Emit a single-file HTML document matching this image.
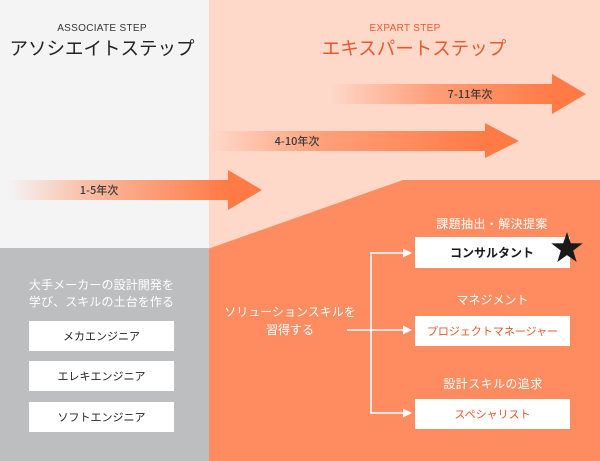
<!DOCTYPE html>
<html><head><meta charset="utf-8"><style>
html,body{margin:0;padding:0;width:600px;height:461px;overflow:hidden;background:#f4f4f4}
svg{display:block}
text{font-family:"Liberation Sans","Noto Sans CJK JP",sans-serif}
.jp{font-family:"Noto Sans CJK JP","Liberation Sans",sans-serif}
</style></head><body>
<svg width="600" height="461" viewBox="0 0 600 461" xmlns="http://www.w3.org/2000/svg">
<defs>
<linearGradient id="g1" gradientUnits="userSpaceOnUse" x1="8" y1="0" x2="230" y2="0">
<stop offset="0" stop-color="#ff7a45" stop-opacity="0"/>
<stop offset="0.45" stop-color="#ff7a45" stop-opacity="0.55"/>
<stop offset="1" stop-color="#ff7a45" stop-opacity="1"/>
</linearGradient>
<linearGradient id="g2" gradientUnits="userSpaceOnUse" x1="212" y1="0" x2="487" y2="0">
<stop offset="0" stop-color="#ff7a45" stop-opacity="0"/>
<stop offset="0.4" stop-color="#ff7a45" stop-opacity="0.6"/>
<stop offset="1" stop-color="#ff7a45" stop-opacity="1"/>
</linearGradient>
<linearGradient id="g3" gradientUnits="userSpaceOnUse" x1="330" y1="0" x2="554" y2="0">
<stop offset="0" stop-color="#ff7a45" stop-opacity="0"/>
<stop offset="0.45" stop-color="#ff7a45" stop-opacity="0.6"/>
<stop offset="1" stop-color="#ff7a45" stop-opacity="1"/>
</linearGradient>
</defs>
<!-- backgrounds -->
<rect x="0" y="0" width="209" height="248" fill="#f4f4f4"/>
<rect x="0" y="248" width="209" height="213" fill="#bdbec0"/>
<rect x="209" y="0" width="391" height="461" fill="#fed8c9"/>
<polygon points="209,248.5 403,180 600,180 600,461 209,461" fill="#ff8c60"/>

<!-- headings -->
<text x="102" y="31" text-anchor="middle" font-size="10" fill="#333" letter-spacing="0.3">ASSOCIATE STEP</text>
<text x="102" y="55" text-anchor="middle" font-size="18.5" fill="#222" class="jp">アソシエイトステップ</text>
<text x="405" y="31" text-anchor="middle" font-size="10" fill="#e9582b" letter-spacing="0.3">EXPART STEP</text>
<text x="414" y="55" text-anchor="middle" font-size="18.5" fill="#e9582b" class="jp">エキスパートステップ</text>

<!-- arrows -->
<rect x="8" y="180" width="221" height="20" fill="url(#g1)"/>
<polygon points="228,170 262,190 228,210" fill="#ff7a45"/>
<text x="99" y="194" text-anchor="middle" font-size="11" font-weight="500" fill="#3a3a3a" class="jp">1-5年次</text>

<rect x="212" y="131" width="274" height="20" fill="url(#g2)"/>
<polygon points="485,123 519,141 485,158" fill="#ff7a45"/>
<text x="297" y="145" text-anchor="middle" font-size="11" font-weight="500" fill="#3a3a3a" class="jp">4-10年次</text>

<rect x="330" y="84" width="223" height="20" fill="url(#g3)"/>
<polygon points="552,74 586,94 552,114" fill="#ff7a45"/>
<text x="470" y="98" text-anchor="middle" font-size="11" font-weight="500" fill="#3a3a3a" class="jp">7-11年次</text>

<!-- bottom left -->
<text x="101.5" y="289" text-anchor="middle" font-size="12" fill="#fff" class="jp" letter-spacing="0.1">大手メーカーの設計開発を</text>
<text x="101.5" y="306" text-anchor="middle" font-size="12" fill="#fff" class="jp" letter-spacing="0.1">学び、スキルの土台を作る</text>
<rect x="29" y="321" width="145" height="30" fill="#fff"/>
<rect x="29" y="361" width="145" height="30" fill="#fff"/>
<rect x="29" y="402" width="145" height="30" fill="#fff"/>
<text x="101.5" y="340" text-anchor="middle" font-size="11" fill="#222" class="jp">メカエンジニア</text>
<text x="101.5" y="380" text-anchor="middle" font-size="11" fill="#222" class="jp">エレキエンジニア</text>
<text x="101.5" y="421" text-anchor="middle" font-size="11" fill="#222" class="jp">ソフトエンジニア</text>

<!-- right bottom -->
<text x="290" y="316" text-anchor="middle" font-size="12" fill="#fff" class="jp">ソリューションスキルを</text>
<text x="290" y="334" text-anchor="middle" font-size="12" fill="#fff" class="jp">習得する</text>

<g stroke="#fff" stroke-width="1.6" fill="none">
<line x1="347" y1="330" x2="405" y2="330"/>
<polyline points="405,253 371,253 371,413 405,413"/>
</g>
<g fill="#fff">
<polygon points="403,248.5 412,253 403,257.5"/>
<polygon points="403,325.5 412,330 403,334.5"/>
<polygon points="403,408.5 412,413 403,417.5"/>
</g>

<text x="492" y="228" text-anchor="middle" font-size="12" fill="#fff" class="jp" letter-spacing="0.4">課題抽出・解決提案</text>
<text x="492.5" y="304" text-anchor="middle" font-size="12" fill="#fff" class="jp">マネジメント</text>
<text x="493" y="388" text-anchor="middle" font-size="12" fill="#fff" class="jp" letter-spacing="0.4">設計スキルの追求</text>

<rect x="415" y="237" width="155" height="31" fill="#fff"/>
<rect x="415" y="316" width="155" height="30" fill="#fff"/>
<rect x="415" y="399" width="155" height="30" fill="#fff"/>
<text x="492" y="257" text-anchor="middle" font-size="12" font-weight="bold" fill="#1a1a1a" class="jp">コンサルタント</text>
<text x="492.5" y="335" text-anchor="middle" font-size="11" fill="#e9582b" class="jp">プロジェクトマネージャー</text>
<text x="492.5" y="418" text-anchor="middle" font-size="11" fill="#e9582b" class="jp">スペシャリスト</text>

<!-- star -->
<polygon fill="#1a1a1a" points="567,232 570.8,243.3 582.7,243.4 573.2,250.6 576.7,262 567,255.1 557.3,262 560.8,250.6 551.3,243.4 563.2,243.3"/>
</svg>
</body></html>
